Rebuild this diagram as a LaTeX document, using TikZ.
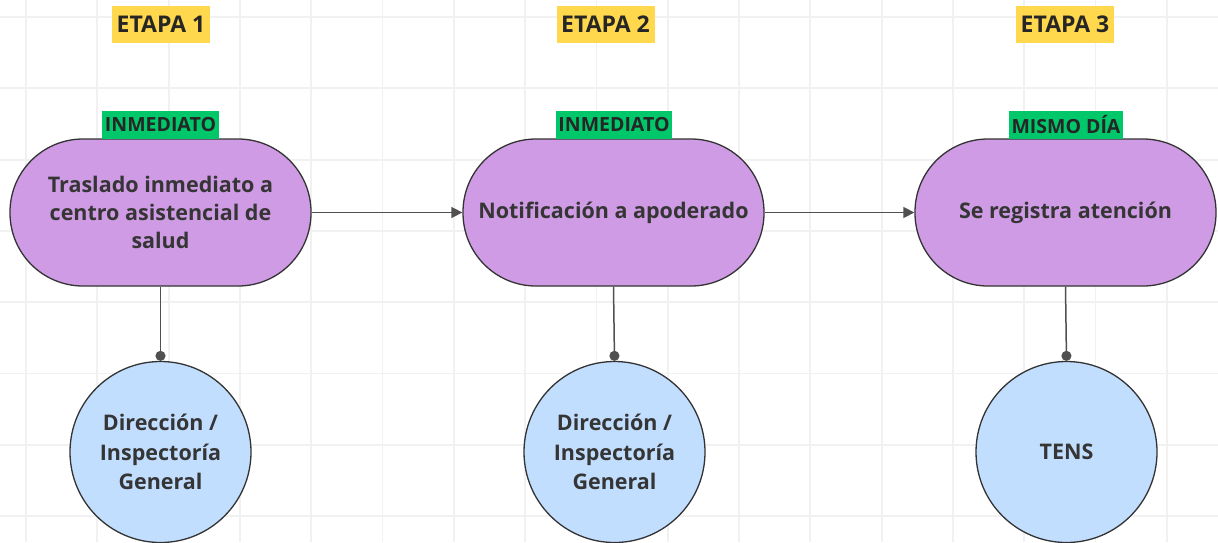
\documentclass[tikz,border=0pt]{standalone}
\usepackage{fontspec}
\setmainfont{Open Sans}
\usetikzlibrary{arrows.meta}
\definecolor{gridc}{HTML}{F1F1F1}
\definecolor{purp}{HTML}{CE9BE4}
\definecolor{lblue}{HTML}{C2DEFE}
\definecolor{yel}{HTML}{FFD84D}
\definecolor{grn}{HTML}{00C86A}
\definecolor{txt}{HTML}{353535}
\definecolor{edge}{HTML}{333333}
\definecolor{conn}{HTML}{505050}
\tikzset{
  stagebox/.style={rectangle, rounded corners=73pt, minimum width=301pt, minimum height=147pt,
    fill=purp, draw=edge, line width=1.3pt, align=center, text=txt,
    font=\bfseries\fontsize{21.5}{28}\selectfont},
  rolecirc/.style={circle, minimum size=181pt, inner sep=0pt, fill=lblue, draw=edge, line width=1.3pt,
    align=center, text=txt, font=\bfseries\fontsize{21.5}{29.5}\selectfont},
  etapa/.style={rectangle, fill=yel, inner sep=0pt, minimum width=98pt, minimum height=37pt,
    text=black!85, font=\bfseries\fontsize{23}{26}\selectfont},
  timing/.style={rectangle, fill=grn, inner sep=0pt, minimum height=28pt,
    text=black!85, font=\bfseries\fontsize{19.5}{22}\selectfont},
  flow/.style={draw=conn, line width=1.5pt, -{Triangle[length=11pt,width=11pt]}},
  link/.style={draw=conn, line width=1.5pt, -{Circle[length=10pt]}}
}
\begin{document}
\begin{tikzpicture}[x=1pt,y=-1pt]
\fill[white] (0,0) rectangle (1218,542);
\useasboundingbox (0,0) rectangle (1218,542);
\foreach \i in {0,...,16} {\draw[gridc, line width=1.8pt] ({26+71.3*\i},0) -- ({26+71.3*\i},542);}
\foreach \j in {0,...,7} {\draw[gridc, line width=1.8pt] (0,{17+71.3*\j}) -- (1218,{17+71.3*\j});}

\node[etapa] (e1) at (161,24.5) {ETAPA 1};
\node[etapa] (e2) at (605.5,24.5) {ETAPA 2};
\node[etapa] (e3) at (1065,24.5) {ETAPA 3};

\node[stagebox] (s1) at (160.5,212.5) {Traslado inmediato a\\centro asistencial de\\salud};
\node[stagebox] (s2) at (613.5,212.5) {Notificación a apoderado};
\node[stagebox] (s3) at (1065.5,212.5) {Se registra atención};

\node[timing, minimum width=117pt] (t1) at (160.5,125) {INMEDIATO};
\node[timing, minimum width=116pt] (t2) at (614,125) {INMEDIATO};
\node[timing, minimum width=114pt] (t3) at (1066,125) {MISMO DÍA};

\node[rolecirc] (c1) at (160.5,452) {Dirección /\\Inspectoría\\General};
\node[rolecirc] (c2) at (614.5,452) {Dirección /\\Inspectoría\\General};
\node[rolecirc] (c3) at (1066.5,452) {TENS};

\draw[flow] (s1.east) -- (s2.west);
\draw[flow] (s2.east) -- (s3.west);
\draw[link] (s1.south) -- (c1.north);
\draw[link] (s2.south) -- (c2.north);
\draw[link] (s3.south) -- (c3.north);
\end{tikzpicture}
\end{document}
